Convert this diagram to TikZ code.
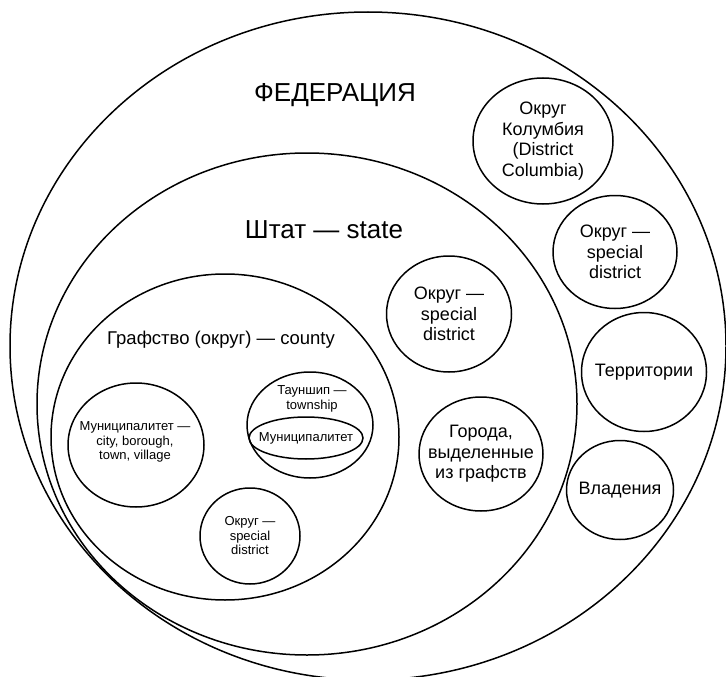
\documentclass[tikz,border=0pt]{standalone}
\usepackage{fontspec}
\setmainfont{Liberation Sans}
\usetikzlibrary{shapes.geometric,positioning}
\tikzset{
  %% Level outlines (ellipse nodes, text set apart)
  lvlE/.style={draw, ellipse, line width=1.5pt, inner sep=0pt},
  %% Level titles
  ttlBig/.style={font=\fontsize{26}{30}\selectfont, inner sep=0pt},
  ttlCounty/.style={font=\fontsize{18.5}{22}\selectfont, inner sep=0pt},
  %% Texts inside the units
  txtMid/.style={font=\fontsize{18}{20.5}\selectfont, align=center, inner sep=0pt},
  txtSmall/.style={font=\fontsize{13}{14.5}\selectfont, align=center, inner sep=0pt},
}

\begin{document}
\begin{tikzpicture}[x=1pt, y=-1pt]
\useasboundingbox (0,0) rectangle (726,677);

%% Levels: federation, state, county
\node[lvlE, minimum width=716pt, minimum height=668pt] (eFed)    at (368,346) {};
\node[lvlE, minimum width=540pt, minimum height=502pt] (eState)  at (307,404) {};
\node[lvlE, minimum width=348pt, minimum height=326pt] (eCounty) at (225,437) {};

\node[ttlBig]    (tFed)    at (335,95)  {ФЕДЕРАЦИЯ};
\node[ttlBig]    (tState)  at (324,230) {Штат — state};
\node[ttlCounty] (tCounty) at (221,340) {Графство (округ) — county};

%% Federation units
\node[lvlE, minimum width=140pt, minimum height=126pt] (eDC)    at (543,141) {};
\node[txtMid] (tDC) at (eDC) {Округ\\Колумбия\\(District\\Columbia)};
\node[lvlE, minimum width=124pt, minimum height=113pt] (eSpecF) at (615,252) {};
\node[txtMid] (tSpecF) at (eSpecF) {Округ —\\special\\district};
\node[lvlE, minimum width=125pt, minimum height=119pt] (eTerr)  at (644,372) {};
\node[txtMid] (tTerr) at (eTerr) {Территории};
\node[lvlE, minimum width=107pt, minimum height=99pt]  (ePoss)  at (620,490) {};
\node[txtMid] (tPoss) at (ePoss) {Владения};

%% State units
\node[lvlE, minimum width=125pt, minimum height=116pt] (eSpecS) at (449,314) {};
\node[txtMid] (tSpecS) at (eSpecS) {Округ —\\special\\district};
\node[lvlE, minimum width=124pt, minimum height=114pt] (eCity)  at (481,454) {};
\node[txtMid] (tCity) at (eCity) {Города,\\выделенные\\из графств};

%% County units
\node[lvlE, minimum width=136pt, minimum height=124pt] (eMun)   at (136,445) {};
\node[txtSmall] (tMun) at (135,442) {Муниципалитет —\\city, borough,\\town, village};
\node[lvlE, minimum width=126pt, minimum height=106pt] (eTown)  at (310,425) {};
\node[txtSmall] (tTown) at (312,399) {Тауншип —\\township};
\node[lvlE, minimum width=114pt, minimum height=42pt]  (eMunT)  at (306,438) {};
\node[txtSmall] (tMunT) at (eMunT) {Муниципалитет};
\node[lvlE, minimum width=100pt, minimum height=96pt]  (eSpecC) at (250,536) {};
\node[txtSmall] (tSpecC) at (eSpecC) {Округ —\\special\\district};

\end{tikzpicture}
\end{document}
